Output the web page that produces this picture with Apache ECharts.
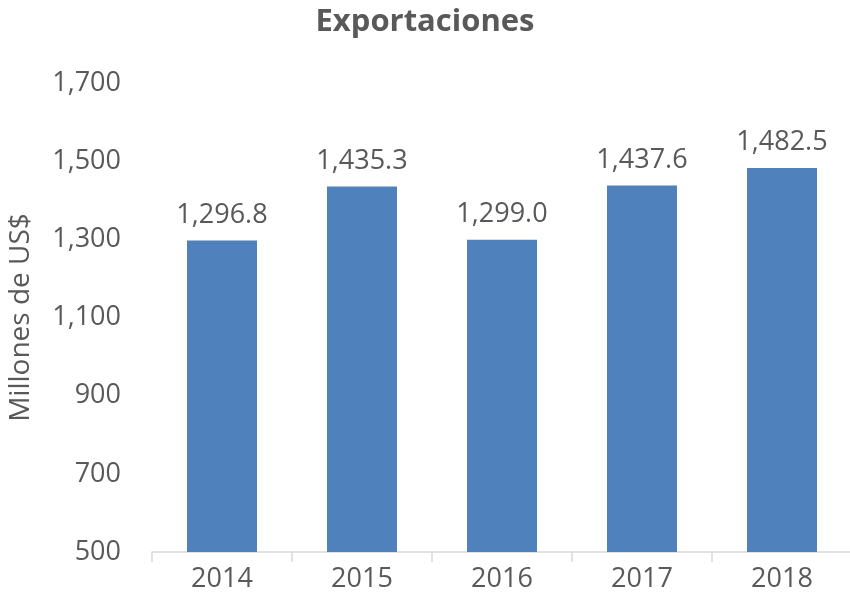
<!DOCTYPE html>
<html>
<head>
<meta charset="utf-8">
<script src="https://cdn.jsdelivr.net/npm/echarts@6/dist/echarts.min.js"></script>
<style>
  html, body { margin: 0; padding: 0; background: #fff; }
  #chart { width: 850px; height: 605px; }
</style>
</head>
<body>
<div id="chart"></div>
<script>
// Exports by year, millions of US$
const years = ['2014', '2015', '2016', '2017', '2018'];
const exportsValues = [1296.8, 1435.3, 1299.0, 1437.6, 1482.5];
const yTicks = [500, 700, 900, 1100, 1300, 1500, 1700];

const FONT = '"Open Sans", "Liberation Sans", sans-serif';
const TEXT = '#595959';

const fmt = (v, d) => v.toLocaleString('en-US', { minimumFractionDigits: d, maximumFractionDigits: d });

const chart = echarts.init(document.getElementById('chart'), null, { renderer: 'canvas' });
chart.setOption({
  animation: false,
  backgroundColor: '#ffffff',
  title: {
    text: 'Exportaciones',
    left: 'center',
    top: 2,
    textStyle: { fontFamily: FONT, fontWeight: 'bold', fontSize: 31, color: TEXT }
  },
  grid: { left: 152, right: -2, top: 83, bottom: 53, containLabel: false, outerBoundsMode: 'none' },
  xAxis: {
    type: 'category',
    data: years,
    axisLine: { lineStyle: { color: '#d9d9d9', width: 1.5 } },
    axisTick: { show: true, alignWithLabel: false, length: 10, lineStyle: { color: '#d9d9d9', width: 1.5 } },
    axisLabel: { fontFamily: FONT, fontSize: 27, color: TEXT, margin: 14 }
  },
  yAxis: {
    type: 'value',
    min: yTicks[0],
    max: yTicks[yTicks.length - 1],
    interval: yTicks[1] - yTicks[0],
    name: 'Millones de US$',
    nameLocation: 'middle',
    nameGap: 117,
    nameTextStyle: { fontFamily: FONT, fontSize: 28, color: TEXT },
    axisLine: { show: false },
    axisTick: { show: false },
    splitLine: { show: false },
    axisLabel: {
      fontFamily: FONT, fontSize: 27, color: TEXT, margin: 31,
      formatter: v => fmt(v, 0)
    }
  },
  series: [{
    type: 'bar',
    data: exportsValues,
    barWidth: '50%',
    itemStyle: { color: '#4f81bd' },
    label: {
      show: true,
      position: 'top',
      distance: 12,
      fontFamily: FONT,
      fontSize: 27,
      color: TEXT,
      formatter: p => fmt(p.value, 1)
    }
  }]
});
</script>
</body>
</html>
